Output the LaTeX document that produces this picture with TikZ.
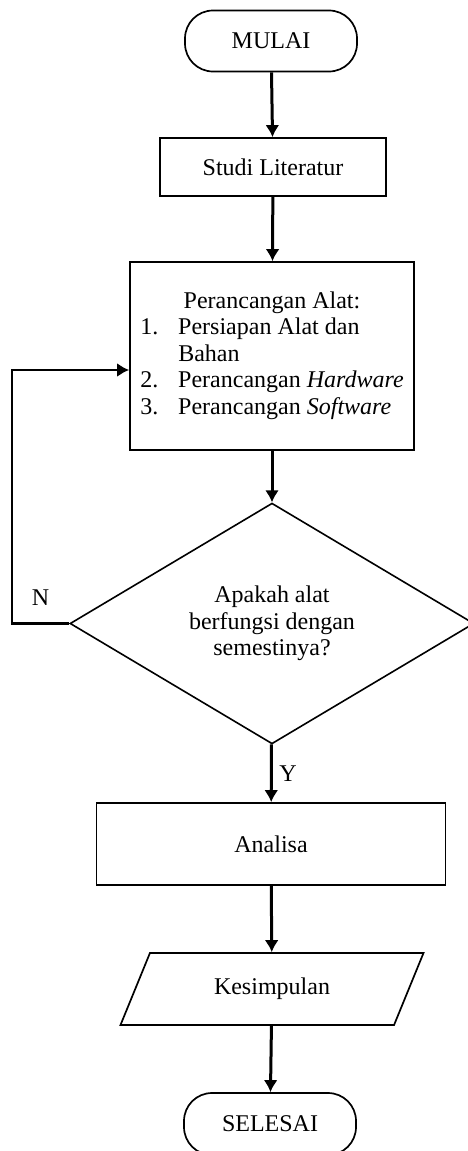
\documentclass[tikz,border=0pt]{standalone}
\usepackage{fontspec}
\setmainfont{Liberation Serif}
\usepackage{tikz}
\usetikzlibrary{shapes.geometric,arrows.meta}

\begin{document}
\begin{tikzpicture}[x=0.5pt,y=-0.5pt,font=\fontsize{12}{13.25}\selectfont]
  \tikzset{terminal/.style={draw,rectangle,rounded corners=14pt,minimum width=86pt,minimum height=30.5pt,line width=0.85pt}}
  \tikzset{process/.style={draw,rectangle,line width=0.85pt,inner sep=0pt}}
  \tikzset{decision/.style={draw,diamond,align=center,inner sep=0pt,line width=0.8pt,minimum width=202pt,minimum height=106.5pt}}
  \tikzset{inout/.style={draw,trapezium,trapezium left angle=50,trapezium right angle=130,trapezium stretches body,minimum width=151.5pt,minimum height=36pt,line width=0.85pt}}
  \tikzset{transition/.style={-{Latex[length=6pt,width=7pt]},line width=1.5pt}}
  \useasboundingbox (0,0) rectangle (467,1151);
  \node[terminal] (mulai) at (271,41) {MULAI};
  \node[process,minimum width=113pt,minimum height=29pt] (studi) at (273,167) {Studi Literatur};
  \node[process,minimum width=142pt,minimum height=94pt] (rancang) at (272,356) {%
    \begin{tabular}{@{}p{19pt}@{}l@{}}
      \multicolumn{2}{c}{Perancangan Alat:}\\
      1. & Persiapan Alat dan\\
         & Bahan\\
      2. & Perancangan \textit{Hardware}\\
      3. & Perancangan \textit{Software}
    \end{tabular}};
  \node[decision] (tanya) at (272,623.5) {Apakah alat\\berfungsi dengan\\semestinya?};
  \node[process,minimum width=174.5pt,minimum height=41pt] (analisa) at (271,844) {Analisa};
  \node[inout] (simpul) at (272,989) {Kesimpulan};
  \node[terminal,minimum height=31pt] (selesai) at (270,1124) {SELESAI};
  \coordinate (balik) at (12,370);
  \draw[transition] (mulai)--(studi);
  \draw[transition] (studi)--(rancang);
  \draw[transition] (rancang)--(tanya);
  \draw[transition] (tanya)--node[right]{Y} (analisa);
  \draw[transition,line width=1.2pt] (tanya.west) -| node[pos=0.25,above=5pt]{N} (balik) -- (balik -| rancang.west);
  \draw[transition] (analisa)--(simpul);
  \draw[transition] (simpul)--(selesai);
\end{tikzpicture}
\end{document}
